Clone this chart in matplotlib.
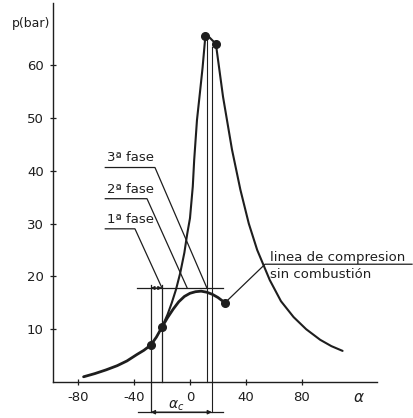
import matplotlib
matplotlib.use("Agg")
import matplotlib.pyplot as plt

plt.rcParams['font.family'] = 'DejaVu Sans'
plt.rcParams['axes.unicode_minus'] = False

ink = '#1e1e1e'

# compression curve without combustion (crank angle, bar)
comp_alpha = [-76, -68, -60, -52, -45, -38, -33, -28, -24, -20, -16, -12, -8, -4, 0, 4, 8, 12, 16, 20, 25]
comp_p = [1.0, 1.6, 2.3, 3.1, 4.0, 5.2, 6.0, 7.0, 8.5, 10.4, 12.2, 13.8, 15.2, 16.2, 16.8, 17.1, 17.2, 17.0, 16.6, 16.0, 15.0]

# pressure curve with combustion
comb_alpha = [-20, -16, -13, -10, -7, -4, -2, 0, 2, 3, 5, 7, 9, 11, 14, 18.5, 23.6, 30, 36, 42, 48, 57, 65, 74, 83, 93, 101, 109]
comb_p = [10.4, 12.8, 15.0, 17.5, 20.6, 24.5, 28.0, 31.0, 37.0, 42.0, 49.6, 54.5, 59.5, 65.5, 65.2, 64.0, 54.0, 44.0, 36.4, 30.0, 25.0, 19.3, 15.3, 12.3, 10.0, 8.0, 6.8, 5.9]

# marked points
dot_alpha = [-28, -20, 25, 11, 18.5]
dot_p = [7.0, 10.4, 15.0, 65.5, 64.0]

# phase limits
a_inject = -28
a_ignite = -20
a_peak = 12.1
a_end = 15.7
p_ref = 17.8
p_dim = -5.7

xticks = [-80, -40, 0, 40, 80]
yticks = [10, 20, 30, 40, 50, 60]

fig = plt.figure(figsize=(4.13, 4.18), dpi=100)
ax = fig.add_axes([0, 0, 1, 1])
ax.set_xlim(-135.7, 159.3)
ax.set_ylim(-6.8, 72.3)

# axes
for s in ['top', 'right']:
    ax.spines[s].set_visible(False)
ax.spines['left'].set_position(('data', -98))
ax.spines['bottom'].set_position(('data', 0))
ax.spines['left'].set_bounds(0, 71.8)
ax.spines['bottom'].set_bounds(-98, 133.5)
for s in ['left', 'bottom']:
    ax.spines[s].set_color(ink)
    ax.spines[s].set_linewidth(1.0)
ax.set_xticks(xticks)
ax.set_yticks(yticks)
ax.tick_params(direction='inout', length=5, width=0.9, colors=ink, labelsize=9.5, pad=4)

# curves
ax.plot(comp_alpha, comp_p, color=ink, lw=2.0, solid_capstyle='round')
ax.plot(comb_alpha, comb_p, color=ink, lw=1.5, solid_capstyle='round')
ax.plot(dot_alpha, dot_p, 'o', color=ink, ms=5.5)

# construction lines
ax.plot([-38, 23.6], [p_ref, p_ref], color=ink, lw=0.9)
ax.plot([a_inject, a_inject], [18.4, p_dim], color=ink, lw=0.9)
ax.plot([a_ignite, a_ignite], [18.4, 0], color=ink, lw=0.9)
ax.plot([a_peak, a_peak], [64.8, 0], color=ink, lw=0.8)
ax.plot([a_end, a_end], [63.5, p_dim], color=ink, lw=0.8)
ax.plot([-37, 23.6], [p_dim, p_dim], color=ink, lw=0.9)
ax.annotate('', xy=(a_inject, p_dim), xytext=(a_end, p_dim),
            arrowprops=dict(arrowstyle='<|-|>', mutation_scale=6, lw=0.9, color=ink, shrinkA=0, shrinkB=0))
ax.annotate('', xy=(a_inject, p_ref), xytext=(a_ignite, p_ref),
            arrowprops=dict(arrowstyle='<|-|>', mutation_scale=5, lw=0.9, color=ink, shrinkA=0, shrinkB=0))

# phase labels with leaders
phases = ['3ª fase', '2ª fase', '1ª fase']
phase_p = [40.6, 34.7, 29.0]
phase_end = [-25, -30.7, -39.3]
phase_target = [a_peak, -2, a_ignite]
for name, pp, pe, pt in zip(phases, phase_p, phase_end, phase_target):
    ax.text(-59.3, pp + 0.6, name, fontsize=9.5, color=ink, ha='left', va='bottom')
    ax.plot([-60.5, pe, pt], [pp, pp, p_ref], color=ink, lw=0.9)

# compression line label
ax.text(57, 22.9, 'linea de compresion', fontsize=9.5, color=ink, ha='left', va='baseline', clip_on=False)
ax.text(57, 19.7, 'sin combustión', fontsize=9.5, color=ink, ha='left', va='baseline', clip_on=False)
ax.plot([25, 53.6, 158.6], [15.0, 22.3, 22.3], color=ink, lw=0.9, clip_on=False)

# axis labels
ax.text(-113.6, 67.8, 'p(bar)', fontsize=9, color=ink, ha='center', va='center')
ax.text(121, -3.0, r'$\alpha$', fontsize=11, color=ink, ha='center', va='center')
ax.text(-4.0, -4.4, r'$\alpha_c$', fontsize=10, color=ink, ha='right', va='center')

fig.savefig('out.png', dpi=100, facecolor='white')
